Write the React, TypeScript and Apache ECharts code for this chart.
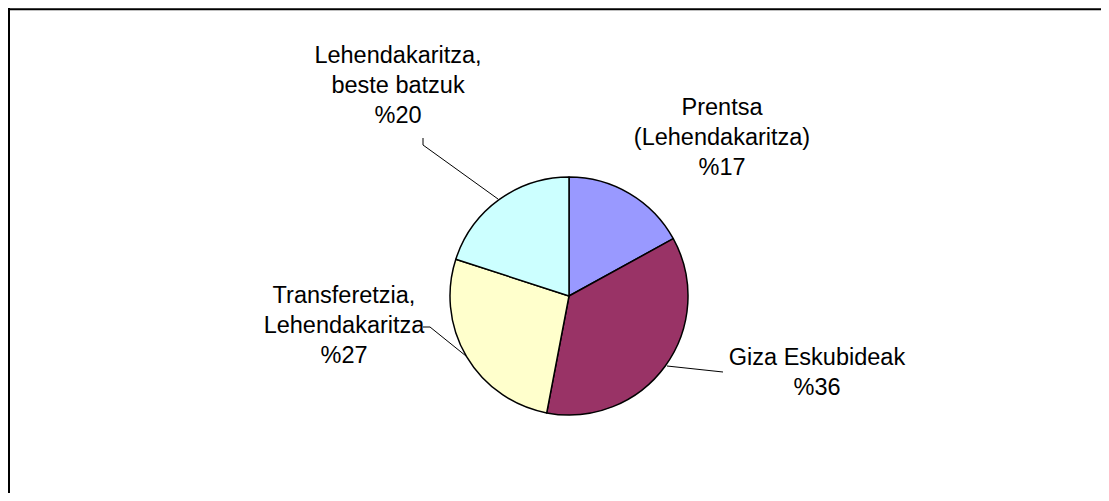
import React, { useEffect, useRef } from "react";
import * as echarts from "echarts";

const categories = [
  "Prentsa\n(Lehendakaritza)",
  "Giza Eskubideak",
  "Transferetzia,\nLehendakaritza",
  "Lehendakaritza,\nbeste batzuk",
];
const values = [17, 36, 27, 20];
const colors = ["#9999FF", "#993366", "#FFFFCC", "#CCFFFF"];

// label placement (style only)
const labelPos = [
  { x: 714, y: 129 },
  { x: 809, y: 364 },
  { x: 336, y: 317 },
  { x: 390, y: 77 },
];
const linePts: (number[][] | null)[] = [
  null,
  [[659, 358], [687, 361], [715, 364]],
  [[458, 348], [422, 319], [415, 319]],
  [[490, 191], [415, 137], [415, 130]],
];

export default function App() {
  const ref = useRef<HTMLDivElement>(null);
  useEffect(() => {
    if (!ref.current) return;
    const chart = echarts.init(ref.current, null, { renderer: "svg" });
    chart.setOption({
      animation: false,
      backgroundColor: "#fff",
      graphic: [
        {
          type: "line",
          shape: { x1: 0, y1: 1.2, x2: 1093, y2: 1.2 },
          style: { stroke: "#000", lineWidth: 2 },
          silent: true,
        },
        {
          type: "line",
          shape: { x1: 1, y1: 0, x2: 1, y2: 485 },
          style: { stroke: "#000", lineWidth: 2 },
          silent: true,
        },
      ],
      series: [
        {
          type: "pie",
          center: [561, 288],
          radius: 119,
          startAngle: 90,
          clockwise: true,
          data: categories.map((name, i) => ({
            name,
            value: values[i],
            itemStyle: { color: colors[i] },
            labelLine: { show: linePts[i] !== null },
          })),
          itemStyle: { borderColor: "#000", borderWidth: 1.5 },
          label: {
            show: true,
            formatter: (p: any) => `${p.name}\n%${p.value}`,
            fontFamily: "Liberation Sans, Arial, sans-serif",
            fontSize: 23.5,
            lineHeight: 30,
            color: "#000",
            align: "center",
          },
          labelLine: {
            show: true,
            lineStyle: { color: "#000", width: 1 },
          },
          labelLayout: (params: any) => {
            const i = params.dataIndex;
            const res: any = {
              x: labelPos[i].x,
              y: labelPos[i].y,
              align: "center",
              verticalAlign: "middle",
            };
            if (linePts[i]) res.labelLinePoints = linePts[i];
            return res;
          },
        },
      ],
    });
    return () => chart.dispose();
  }, []);
  return <div ref={ref} style={{ width: 1093, height: 485, overflow: "hidden" }} />;
}
